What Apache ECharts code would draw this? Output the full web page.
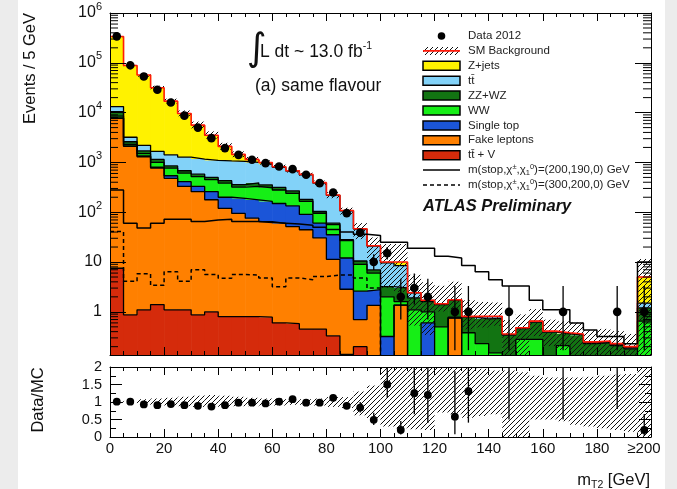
<!DOCTYPE html>
<html>
<head>
<meta charset="utf-8">
<title>mT2 same flavour</title>
<script src="https://cdn.jsdelivr.net/npm/echarts@6.0.0/dist/echarts.min.js"></script>
<style>
  html, body { margin: 0; padding: 0; width: 677px; height: 489px; overflow: hidden; background: #ececec; }
  #sheet { position: absolute; left: 18px; top: 0; width: 647px; height: 489px; background: #ffffff; }
  #chart { position: absolute; left: 0; top: 0; width: 677px; height: 489px; }
</style>
</head>
<body>
<div id="sheet"></div>
<div id="chart"></div>
<script>
// 5 GeV bins from 0 to 200 GeV; the last bin also holds the overflow
const binLow = [0, 5, 10, 15, 20, 25, 30, 35, 40, 45, 50, 55, 60, 65, 70, 75, 80, 85, 90, 95,
                100, 105, 110, 115, 120, 125, 130, 135, 140, 145, 150, 155, 160, 165, 170, 175, 180, 185, 190, 195];
const binWidth = 5;

// Expected events per bin, stacked from the bottom up
const ttV = [7.5, 0.87, 1.1, 1.4, 1.1, 1.1, 0.87, 1.0, 0.8, 0.8, 0.8, 0.78, 0.6, 0.58, 0.45, 0.45, 0.33, 0.14, 0.2, 0.05,
             0.02, 0.02, 0.01, 0.01, 0.01, 0.01, 0.01, 0.01, 0.01, 0.01, 0.01, 0.01, 0.01, 0.01, 0.01, 0.01, 0.01, 0.01, 0.01, 0.01];
const fakeLeptons = [7690, 2099, 1299, 769, 479, 329, 259, 177, 119, 94, 75, 64, 59, 51, 44, 30, 11, 2.7, 0.5, 1.3,
                     0.08, 1.34, 0.02, 0.01, 0.01, 0.74, 0.01, 0.01, 0.01, 0.01, 0.01, 0.01, 0.01, 0.01, 0.01, 0.01, 0.01, 0.01, 0.01, 0.01];
const singleTop = [100, 50, 50, 30, 60, 80, 70, 82, 80, 95, 102, 100, 90, 83, 46, 30, 24, 9.2, 1.9, 1.44,
                   0.22, 0.01, 0.02, 0.58, 0.01, 0.01, 0.01, 0.01, 0.01, 0.01, 0.01, 0.01, 0.01, 0.01, 0.01, 0.01, 0.01, 0.01, 0.01, 0.01];
const ww = [700, 150, 150, 200, 230, 200, 190, 190, 185, 130, 152, 145, 130, 105, 75, 35, 21, 15, 6.4, 3.2,
            1.68, 0.24, 1.05, 0.4, 0.47, 0.02, 0.35, 0.2, 0.12, 0.1, 0.25, 0.25, 0.1, 0.18, 0.1, 0.1, 0.1, 0.1, 0.1, 0.62];
const zzwz = [2000, 300, 200, 150, 80, 70, 60, 50, 45, 40, 60, 45, 35, 30, 15, 8, 4, 1, 1.5, 1,
              1.2, 1.4, 0.8, 0.6, 0.9, 0.92, 0.4, 0.49, 0.59, 0.21, 0.18, 0.34, 0.26, 0.15, 0.21, 0.1, 0.11, 0.08, 0.05, 0.55];
const ttbar = [2700, 600, 500, 510, 570, 600, 590, 600, 640, 690, 610, 565, 485, 400, 385, 282, 158, 78, 35.5, 14,
               6.4, 5.5, 0.5, 0.1, 0.02, 0.02, 0.02, 0.08, 0.06, 0.01, 0.01, 0.02, 0.01, 0.01, 0.01, 0.01, 0.01, 0.01, 0.01, 0.3];
const zjets = [323800, 84800, 54800, 29840, 15580, 8320, 4430, 2400, 1030, 400, 150, 80, 20, 10, 10, 7, 4, 2, 0.5, 0.2,
               0.4, 1.5, 0.01, 0.01, 0.03, 0.03, 0.01, 0.01, 0.01, 0.01, 0.01, 0.01, 0.01, 0.01, 0.01, 0.01, 0.01, 0.01, 0.01, 3.5];

// Observed events (null = empty bin) and their asymmetric errors
const data2012 = [340000, 89000, 53000, 28700, 16000, 8700, 5000, 3070, 1940, 1420, 1130, 967, 828, 733, 564, 384, 249, 96, 39, 10,
                  15, 2, 3, 2, null, 1, 1, null, null, 1, null, null, null, 1, null, null, null, 1, null, 1];
const dataErrLo = [583, 298, 230, 169, 126, 93, 71, 55, 44, 38, 34, 31, 29, 27, 24, 20, 16, 9.8, 6.2, 3.1,
                   3.8, 1.3, 1.6, 1.3, null, 0.83, 0.83, null, null, 0.83, null, null, null, 0.83, null, null, null, 0.83, null, 0.83];
const dataErrHi = [583, 298, 230, 169, 126, 93, 71, 55, 44, 38, 34, 31, 29, 27, 24, 20, 16, 10.8, 7.3, 4.3,
                   5.0, 2.6, 2.9, 2.6, null, 2.3, 2.3, null, null, 2.3, null, null, null, 2.3, null, null, null, 2.3, null, 2.3];

// Signal benchmark points
const sigStop200 = [280, 60, 48, 60, 72, 72, 65, 70, 72, 65, 65, 62, 60, 58, 55, 50, 45, 40, 36, 34,
                    25, 25, 19, 19, 13, 12, 8.5, 6.4, 4.4, 3.3, 3.3, 1.7, 1.1, 1.1, 0.6, 0.43, 0.32, 0.32, 0.23, 10];
const sigStop300 = [41, 4.1, 5.8, 3.4, 6.4, 4.1, 7.0, 5.6, 4.7, 5.6, 5.5, 4.8, 3.2, 4.8, 4.4, 5.1, 5.5, 5.5, 4.8, 3.0,
                    0.08, 0.08, 0.08, 0.08, 0.08, 0.08, 0.08, 0.08, 0.08, 0.08, 0.08, 0.08, 0.08, 0.08, 0.08, 0.08, 0.08, 0.08, 0.08, 0.08];

// Relative uncertainty band of the SM prediction (lower / upper edge, as a ratio)
const bandLo = [0.97, 0.97, 0.92, 0.92, 0.9, 0.88, 0.86, 0.86, 0.86, 0.88, 0.88, 0.9, 0.9, 0.92, 0.92, 0.9, 0.86, 0.83, 0.62, 0.5,
                0.3, 0.25, 0.22, 0.2, 0.7, 0.65, 0.55, 0.6, 0.65, 0.0, 0.0, 0.5, 0.5, 0.45, 0.35, 0.3, 0.25, 0.2, 0.15, 0.0];
const bandHi = [1.03, 1.03, 1.08, 1.1, 1.12, 1.15, 1.18, 1.2, 1.18, 1.15, 1.12, 1.1, 1.1, 1.08, 1.08, 1.1, 1.14, 1.14, 1.3, 1.47,
                2.3, 2.3, 2.3, 2.3, 2.3, 2.3, 2.1, 1.95, 1.9, 1.9, 1.85, 1.75, 1.7, 1.7, 1.7, 1.72, 1.75, 1.78, 1.8, 2.3];

// Data / MC in the lower panel
const ratio = [1.01, 1.01, 0.93, 0.91, 0.94, 0.91, 0.89, 0.87, 0.91, 0.98, 0.98, 0.96, 1.01, 1.08, 0.98, 0.98, 1.12, 0.89, 0.84, 0.49,
               1.5, 0.2, 1.25, 1.2, null, 0.58, 1.31, null, null, 2.8, null, null, null, 2.7, null, null, null, 4.4, null, 0.2];
const ratioErrLo = [0.002, 0.003, 0.004, 0.005, 0.007, 0.01, 0.013, 0.016, 0.02, 0.025, 0.03, 0.031, 0.035, 0.04, 0.04, 0.05, 0.07, 0.09, 0.14, 0.15,
                    0.38, 0.13, 0.6, 0.8, null, 0.5, 0.9, null, null, 2.3, null, null, null, 2.2, null, null, null, 3.6, null, 0.17];
const ratioErrHi = [0.002, 0.003, 0.004, 0.005, 0.007, 0.01, 0.013, 0.016, 0.02, 0.025, 0.03, 0.031, 0.035, 0.04, 0.04, 0.05, 0.07, 0.1, 0.16, 0.2,
                    0.5, 0.26, 1.2, 1.4, null, 1.3, 1.8, null, null, 6.4, null, null, null, 6.1, null, null, null, 10, null, 0.46];

// Axis tick labels
const xTickValues = [0, 20, 40, 60, 80, 100, 120, 140, 160, 180, 200];
const xTickText = ['0', '20', '40', '60', '80', '100', '120', '140', '160', '180', '{r|\u2265200}'];
const yTickValues = [1, 10, 100, 1000, 10000, 100000, 1000000];
const yTickText = ['1', '10', '10{sup|2}', '10{sup|3}', '10{sup|4}', '10{sup|5}', '10{sup|6}'];
const ratioTickValues = [0, 0.5, 1, 1.5, 2];
const ratioTickText = ['0', '0.5', '1', '1.5', '2'];

const legendLabels = ['Data 2012', 'SM Background', 'Z+jets', 'tt\u0304', 'ZZ+WZ', 'WW', 'Single top', 'Fake leptons', 'tt\u0304 + V',
  '{a|m(stop,\u03c7}{p|\u00b1}{a|,\u03c7}{b|1}{p|0}{a|)=(200,190,0) GeV}',
  '{a|m(stop,\u03c7}{p|\u00b1}{a|,\u03c7}{b|1}{p|0}{a|)=(300,200,0) GeV}'];

const FONT = '"Liberation Sans", Arial, Helvetica, sans-serif';
const colors = {
  ttV: '#d52b0b', fake: '#ff8000', single: '#1b55d8', ww: '#16ee16',
  zz: '#127412', ttbar: '#82d2f8', zjets: '#fff200'
};

// Stack layers, bottom first
const layers = [
  { values: ttV, color: colors.ttV },
  { values: fakeLeptons, color: colors.fake },
  { values: singleTop, color: colors.single },
  { values: ww, color: colors.ww },
  { values: zzwz, color: colors.zz },
  { values: ttbar, color: colors.ttbar },
  { values: zjets, color: colors.zjets }
];
const cumulative = [];
layers.forEach((layer, j) => {
  cumulative.push(layer.values.map((v, i) => v + (j ? cumulative[j - 1][i] : 0)));
});
const total = cumulative[cumulative.length - 1];

// Diagonal hatch texture used for the uncertainty band
function hatchTile(size) {
  const c = document.createElement('canvas');
  c.width = c.height = size;
  const g = c.getContext('2d');
  g.strokeStyle = '#111';
  g.lineWidth = 1;
  g.beginPath();
  for (let k = -1; k <= 1; k++) { g.moveTo(k * size, size); g.lineTo(k * size + size, 0); }
  g.stroke();
  return c;
}
const hatch = { image: hatchTile(5), repeat: 'repeat' };

function stepPoints(arr) {
  const pts = binLow.map((x, i) => [x, arr[i]]);
  pts.push([binLow[binLow.length - 1] + binWidth, arr[arr.length - 1]]);
  return pts;
}

function boxRenderer(fill, overlap) {
  return function (params, api) {
    const cs = params.coordSys;
    const a = api.coord([api.value(0), api.value(3)]);
    const b = api.coord([api.value(1), api.value(2)]);
    const shape = echarts.graphic.clipRectByRect(
      { x: a[0], y: a[1], width: b[0] - a[0] + overlap, height: b[1] - a[1] },
      { x: cs.x, y: cs.y, width: cs.width, height: cs.height });
    if (!shape) return null;
    return { type: 'rect', shape: shape, style: { fill: fill } };
  };
}

function pointRenderer(r) {
  return function (params, api) {
    const cs = params.coordSys;
    const x = api.value(0);
    const c = api.coord([x, api.value(1)]);
    const pLo = api.coord([x, api.value(2)]);
    const pHi = api.coord([x, api.value(3)]);
    const top = cs.y, bot = cs.y + cs.height;
    const y1 = Math.max(top, Math.min(pHi[1], bot));
    const y2 = Math.min(bot, Math.max(pLo[1], top));
    const children = [];
    if (y2 > y1) children.push({ type: 'line', shape: { x1: c[0], y1: y1, x2: c[0], y2: y2 }, style: { stroke: '#000', lineWidth: 1.3 } });
    if (c[1] >= top && c[1] <= bot) children.push({ type: 'circle', shape: { cx: c[0], cy: c[1], r: r }, style: { fill: '#000' } });
    return { type: 'group', children: children };
  };
}

const series = [];

// filled stack
layers.forEach((layer, j) => {
  series.push({
    type: 'custom', xAxisIndex: 0, yAxisIndex: 0, z: 2, silent: true,
    renderItem: boxRenderer(layer.color, 0.6),
    data: binLow.map((x, i) => [x, x + binWidth, j ? cumulative[j - 1][i] : 1e-3, cumulative[j][i]])
  });
});
// black outlines of every stacked component
cumulative.slice(0, -1).forEach(cum => {
  series.push({
    type: 'line', xAxisIndex: 0, yAxisIndex: 0, z: 3, step: 'end', symbol: 'none', silent: true,
    lineStyle: { color: '#000', width: 1.3 }, data: stepPoints(cum)
  });
});
// hatched SM uncertainty band
series.push({
  type: 'custom', xAxisIndex: 0, yAxisIndex: 0, z: 4, silent: true,
  renderItem: boxRenderer(hatch, 0),
  data: binLow.map((x, i) => [x, x + binWidth, Math.max(total[i] * bandLo[i], 1e-3), total[i] * bandHi[i]])
});
// SM total
series.push({
  type: 'line', xAxisIndex: 0, yAxisIndex: 0, z: 5, step: 'end', symbol: 'none', silent: true,
  lineStyle: { color: '#ff1a0a', width: 1.6 }, data: stepPoints(total)
});
// signal points
series.push({
  type: 'line', xAxisIndex: 0, yAxisIndex: 0, z: 6, step: 'end', symbol: 'none', silent: true,
  lineStyle: { color: '#000', width: 1.5 }, data: stepPoints(sigStop200)
});
series.push({
  type: 'line', xAxisIndex: 0, yAxisIndex: 0, z: 6, step: 'end', symbol: 'none', silent: true,
  lineStyle: { color: '#000', width: 1.5, type: [4, 3] }, data: stepPoints(sigStop300)
});
// data
series.push({
  type: 'custom', xAxisIndex: 0, yAxisIndex: 0, z: 7, silent: true,
  renderItem: pointRenderer(4.3),
  data: binLow.map((x, i) => data2012[i] == null ? null :
    [x + binWidth / 2, data2012[i], data2012[i] - dataErrLo[i], data2012[i] + dataErrHi[i]]).filter(Boolean)
});

// log-axis minor ticks (2..9 in every decade) on both vertical edges
const minorValues = [];
for (let e = -1; e <= 5; e++) for (let m = 2; m <= 9; m++) {
  const v = m * Math.pow(10, e);
  if (v > 0.136 && v < 1e6) minorValues.push([0, v]);
}
series.push({
  type: 'custom', xAxisIndex: 0, yAxisIndex: 0, z: 20, silent: true,
  renderItem: function (params, api) {
    const l = api.coord([0, api.value(1)]);
    const r = api.coord([200, api.value(1)]);
    return { type: 'group', children: [
      { type: 'line', shape: { x1: l[0], y1: l[1], x2: l[0] + 8, y2: l[1] }, style: { stroke: '#000', lineWidth: 1 } },
      { type: 'line', shape: { x1: r[0] - 8, y1: r[1], x2: r[0], y2: r[1] }, style: { stroke: '#000', lineWidth: 1 } }
    ] };
  },
  data: minorValues
});

// ratio panel: hatched band and points
series.push({
  type: 'custom', xAxisIndex: 2, yAxisIndex: 2, z: 4, silent: true,
  renderItem: boxRenderer(hatch, 0),
  data: binLow.map((x, i) => [x, x + binWidth, bandLo[i], bandHi[i]])
});
series.push({
  type: 'custom', xAxisIndex: 2, yAxisIndex: 2, z: 7, silent: true,
  renderItem: pointRenderer(3.9),
  data: binLow.map((x, i) => ratio[i] == null ? null :
    [x + binWidth / 2, ratio[i], ratio[i] - ratioErrLo[i], ratio[i] + ratioErrHi[i]]).filter(Boolean)
});

function xAxisDef(grid, pos, labels) {
  return {
    type: 'value', gridIndex: grid, position: pos, min: 0, max: 200, interval: 20, z: 10,
    axisLine: { show: true, onZero: false, lineStyle: { color: '#000', width: 1 } },
    axisTick: { show: true, inside: true, length: 8, lineStyle: { color: '#000', width: 1 } },
    minorTick: { show: true, splitNumber: 4, length: 4, lineStyle: { color: '#000', width: 1 } },
    splitLine: { show: false },
    axisLabel: labels ? {
      show: true, margin: 4, color: '#111', fontSize: 15, fontFamily: FONT,
      formatter: v => { const k = xTickValues.indexOf(v); return k < 0 ? '' : xTickText[k]; },
      rich: { r: { fontSize: 15, fontFamily: FONT, color: '#111', padding: [0, 14, 0, 0] } }
    } : { show: false }
  };
}

const option = {
  animation: false,
  backgroundColor: 'transparent',
  grid: [
    { left: 110, top: 13, width: 541, height: 342, show: false, outerBoundsMode: 'none', containLabel: false },
    { left: 110, top: 367, width: 541, height: 70, show: false, outerBoundsMode: 'none', containLabel: false }
  ],
  xAxis: [xAxisDef(0, 'bottom', false), xAxisDef(0, 'top', false), xAxisDef(1, 'bottom', true), xAxisDef(1, 'top', false)],
  yAxis: [
    {
      type: 'log', gridIndex: 0, position: 'left', min: 0.136, max: 1e6, logBase: 10, z: 10,
      axisLine: { show: true, onZero: false, lineStyle: { color: '#000', width: 1 } },
      axisTick: { show: true, inside: true, length: 16, lineStyle: { color: '#000', width: 1 } },
      splitLine: { show: false }, minorTick: { show: false },
      axisLabel: {
        show: true, margin: 8, color: '#111', fontSize: 16, fontFamily: FONT, lineHeight: 24,
        showMinLabel: false,
        formatter: v => {
          const k = yTickValues.findIndex(t => Math.abs(Math.log10(v) - Math.log10(t)) < 1e-6);
          return k < 0 ? '' : yTickText[k];
        },
        rich: { sup: { fontSize: 11, fontFamily: FONT, color: '#111', verticalAlign: 'top', lineHeight: 10 } }
      }
    },
    {
      type: 'log', gridIndex: 0, position: 'right', min: 0.136, max: 1e6, logBase: 10, z: 10,
      axisLine: { show: true, onZero: false, lineStyle: { color: '#000', width: 1 } },
      axisTick: { show: true, inside: true, length: 16, lineStyle: { color: '#000', width: 1 } },
      splitLine: { show: false }, minorTick: { show: false }, axisLabel: { show: false }
    },
    {
      type: 'value', gridIndex: 1, position: 'left', min: 0, max: 2, interval: 0.5, z: 10,
      axisLine: { show: true, onZero: false, lineStyle: { color: '#000', width: 1 } },
      axisTick: { show: true, inside: true, length: 12, lineStyle: { color: '#000', width: 1 } },
      minorTick: { show: true, splitNumber: 2, length: 6, lineStyle: { color: '#000', width: 1 } },
      splitLine: { show: false },
      axisLabel: {
        show: true, margin: 8, color: '#111', fontSize: 14.5, fontFamily: FONT,
        formatter: v => { const k = ratioTickValues.indexOf(v); return k < 0 ? '' : ratioTickText[k]; }
      }
    },
    {
      type: 'value', gridIndex: 1, position: 'right', min: 0, max: 2, interval: 0.5, z: 10,
      axisLine: { show: true, onZero: false, lineStyle: { color: '#000', width: 1 } },
      axisTick: { show: true, inside: true, length: 12, lineStyle: { color: '#000', width: 1 } },
      minorTick: { show: true, splitNumber: 2, length: 6, lineStyle: { color: '#000', width: 1 } },
      splitLine: { show: false }, axisLabel: { show: false }
    }
  ],
  series: series
};

// legend, titles and annotations
const LX = 423, LW = 37, LT = 468, LY0 = 36, LDY = 14.9;
const legendFont = '11.5px ' + FONT;
const boxColors = [colors.zjets, colors.ttbar, colors.zz, colors.ww, colors.single, colors.fake, colors.ttV];
const graphics = [];
legendLabels.forEach((label, k) => {
  const y = LY0 + k * LDY;
  if (k === 0) {
    graphics.push({ type: 'circle', shape: { cx: LX + LW / 2, cy: y, r: 3.8 }, style: { fill: '#000' } });
  } else if (k === 1) {
    graphics.push({ type: 'rect', shape: { x: LX, y: y - 4, width: LW, height: 8 }, style: { fill: hatch } });
    graphics.push({ type: 'line', shape: { x1: LX, y1: y, x2: LX + LW, y2: y }, style: { stroke: '#ff1a0a', lineWidth: 1.6 } });
  } else if (k <= 8) {
    graphics.push({ type: 'rect', shape: { x: LX, y: y - 4.5, width: LW, height: 9 },
      style: { fill: boxColors[k - 2], stroke: '#000', lineWidth: 1.5 } });
  } else {
    graphics.push({ type: 'line', shape: { x1: LX, y1: y, x2: LX + LW, y2: y },
      style: { stroke: '#000', lineWidth: 1.5, lineDash: k === 10 ? [4, 3] : null } });
  }
  graphics.push({
    type: 'text', x: LT, y: y,
    style: {
      text: label, font: legendFont, fill: '#222', verticalAlign: 'middle', align: 'left',
      rich: {
        a: { fontSize: 11.5, fontFamily: FONT, fill: '#222', lineHeight: 14 },
        p: { fontSize: 7.5, fontFamily: FONT, fill: '#222', verticalAlign: 'top', lineHeight: 8 },
        b: { fontSize: 7.5, fontFamily: FONT, fill: '#222', verticalAlign: 'bottom', lineHeight: 8 }
      }
    }
  });
});
graphics.push({ type: 'text', x: LX, y: 206.7,
  style: { text: 'ATLAS Preliminary', font: 'italic bold 16.5px ' + FONT, fill: '#111', verticalAlign: 'middle' } });

// luminosity and channel label
graphics.push({ type: 'text', x: 247, y: 50,
  style: { text: '\u222b', font: '38px "DejaVu Sans"', fill: '#111', verticalAlign: 'middle' } });
graphics.push({ type: 'text', x: 260, y: 52,
  style: {
    text: '{a|L dt ~ 13.0 fb}{s|-1}', verticalAlign: 'middle',
    rich: {
      a: { fontSize: 17.5, fontFamily: FONT, fill: '#111', lineHeight: 22 },
      s: { fontSize: 10.5, fontFamily: FONT, fill: '#111', verticalAlign: 'top', lineHeight: 11 }
    }
  } });
graphics.push({ type: 'text', x: 255, y: 86,
  style: { text: '(a) same flavour', font: '17.5px ' + FONT, fill: '#111', verticalAlign: 'middle' } });

// axis titles
graphics.push({ type: 'text', x: 30, y: 13, rotation: Math.PI / 2,
  style: { text: 'Events / 5 GeV', font: '16.5px ' + FONT, fill: '#111', align: 'right', verticalAlign: 'middle' } });
graphics.push({ type: 'text', x: 38, y: 400, rotation: Math.PI / 2,
  style: { text: 'Data/MC', font: '16.5px ' + FONT, fill: '#111', align: 'center', verticalAlign: 'middle' } });
graphics.push({ type: 'text', x: 650, y: 480,
  style: {
    text: '{a|m}{b|T2}{a| [GeV]}', align: 'right', verticalAlign: 'middle',
    rich: {
      a: { fontSize: 16.5, fontFamily: FONT, fill: '#111', lineHeight: 22 },
      b: { fontSize: 10.5, fontFamily: FONT, fill: '#111', verticalAlign: 'bottom', lineHeight: 12 }
    }
  } });
option.graphic = { elements: graphics };

const chart = echarts.init(document.getElementById('chart'), null, { renderer: 'canvas', width: 677, height: 489 });
chart.setOption(option);
</script>
</body>
</html>
